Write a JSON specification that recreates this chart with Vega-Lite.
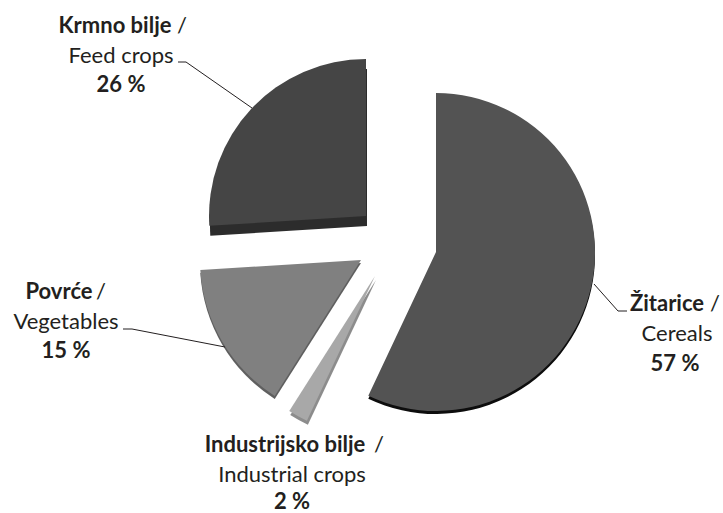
{"$schema":"https://vega.github.io/schema/vega-lite/v6.json","width":723,"height":513,"padding":0,"autosize":"none","background":"white","config":{"view":{"stroke":null}},
"datasets":{"slices":[
{"crop":"Žitarice / Cereals","share":57,"start":0,"end":57,"r":159,"cx":436,"cy":252,"sideCx":436,"sideCy":255},
{"crop":"Povrće / Vegetables","share":15,"start":59,"end":74,"r":161,"cx":361,"cy":260,"sideCx":361,"sideCy":263},
{"crop":"Industrijsko bilje / Industrial crops","share":2,"start":57,"end":59,"r":160,"cx":375,"cy":276,"sideCx":376,"sideCy":280},
{"crop":"Krmno bilje / Feed crops","share":26,"start":74,"end":100,"r":157,"cx":366,"cy":216,"sideCx":367,"sideCy":226}],
"boldLabels":[
{"t":"Krmno bilje","x":115,"y":33},{"t":"26 %","x":121,"y":92},
{"t":"Povrće","x":59,"y":299},{"t":"15 %","x":66,"y":358},
{"t":"Žitarice","x":667,"y":311},{"t":"57 %","x":675,"y":371},
{"t":"Industrijsko bilje","x":285,"y":452},{"t":"2 %","x":292,"y":509}],
"plainLabels":[
{"t":"/","x":182,"y":33},{"t":"Feed crops","x":121,"y":63},
{"t":"/","x":101,"y":299},{"t":"Vegetables","x":66,"y":329},
{"t":"/","x":715,"y":311},{"t":"Cereals","x":677,"y":341},
{"t":"/","x":379,"y":452},{"t":"Industrial crops","x":292,"y":482}],
"leaders":[
{"id":"feed","o":1,"x":178,"y":62},{"id":"feed","o":2,"x":186,"y":62},{"id":"feed","o":3,"x":252,"y":108},
{"id":"veg","o":1,"x":123,"y":329},{"id":"veg","o":2,"x":132,"y":329},{"id":"veg","o":3,"x":225,"y":347},
{"id":"cer","o":1,"x":594,"y":284},{"id":"cer","o":2,"x":618,"y":311},{"id":"cer","o":3,"x":627,"y":311}]},
"resolve":{"scale":{"color":"independent"}},
"layer":[
{"data":{"name":"slices"},"mark":{"type":"arc"},"encoding":{
"x":{"field":"sideCx","type":"quantitative","scale":{"domain":[0,723],"range":[0,723]},"axis":null},
"y":{"field":"sideCy","type":"quantitative","scale":{"domain":[513,0],"range":[513,0]},"axis":null},
"theta":{"field":"start","type":"quantitative","stack":null,"scale":{"domain":[0,100],"range":[0,6.28319]}},
"theta2":{"field":"end"},
"radius":{"field":"r","type":"quantitative","scale":null},
"color":{"field":"crop","type":"nominal","legend":null,"scale":{"domain":["Žitarice / Cereals","Povrće / Vegetables","Industrijsko bilje / Industrial crops","Krmno bilje / Feed crops"],"range":["#0d0d0d","#5f5f5f","#8c8c8c","#2c2c2c"]}}}},
{"data":{"name":"slices"},"mark":{"type":"arc"},"encoding":{
"x":{"field":"cx","type":"quantitative","scale":{"domain":[0,723],"range":[0,723]},"axis":null},
"y":{"field":"cy","type":"quantitative","scale":{"domain":[513,0],"range":[513,0]},"axis":null},
"theta":{"field":"start","type":"quantitative","stack":null,"scale":{"domain":[0,100],"range":[0,6.28319]}},
"theta2":{"field":"end"},
"radius":{"field":"r","type":"quantitative","scale":null},
"color":{"field":"crop","type":"nominal","legend":null,"scale":{"domain":["Žitarice / Cereals","Povrće / Vegetables","Industrijsko bilje / Industrial crops","Krmno bilje / Feed crops"],"range":["#535353","#808080","#a8a8a8","#454545"]}}}},
{"data":{"name":"leaders"},"mark":{"type":"line","stroke":"#231f20","strokeWidth":1},"encoding":{
"x":{"field":"x","type":"quantitative","scale":{"domain":[0,723],"range":[0,723]},"axis":null},
"y":{"field":"y","type":"quantitative","scale":{"domain":[513,0],"range":[513,0]},"axis":null},
"detail":{"field":"id"},"order":{"field":"o"}}},
{"data":{"name":"plainLabels"},"mark":{"type":"text","font":"Lato","fontSize":22,"fill":"#231f20","align":"center","baseline":"alphabetic"},"encoding":{
"x":{"field":"x","type":"quantitative","scale":{"domain":[0,723],"range":[0,723]},"axis":null},
"y":{"field":"y","type":"quantitative","scale":{"domain":[513,0],"range":[513,0]},"axis":null},
"text":{"field":"t"}}},
{"data":{"name":"boldLabels"},"mark":{"type":"text","font":"Lato","fontWeight":"bold","fontSize":22,"fill":"#231f20","align":"center","baseline":"alphabetic"},"encoding":{
"x":{"field":"x","type":"quantitative","scale":{"domain":[0,723],"range":[0,723]},"axis":null},
"y":{"field":"y","type":"quantitative","scale":{"domain":[513,0],"range":[513,0]},"axis":null},
"text":{"field":"t"}}}
]}
